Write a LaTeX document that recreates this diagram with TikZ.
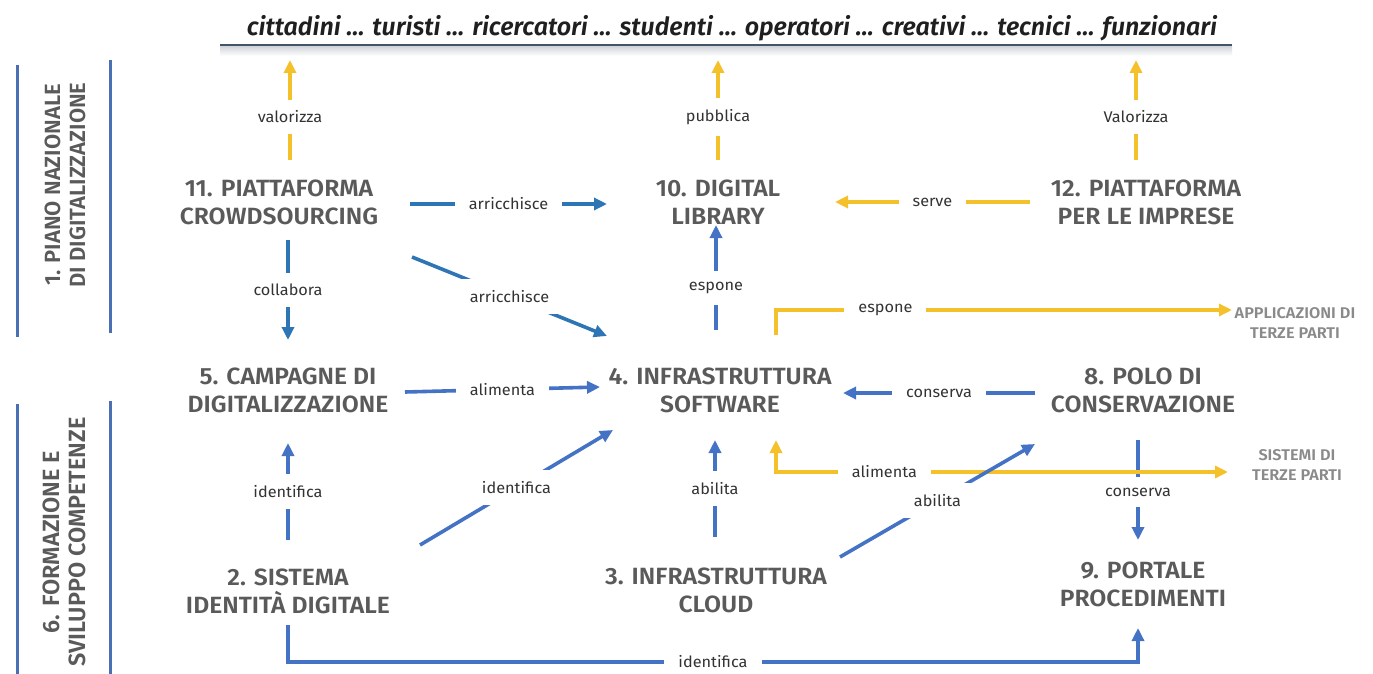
\documentclass[tikz,border=0pt]{standalone}
\usepackage{fontspec}
\setmainfont{Fira Sans}[FakeStretch=1.05]
\newfontfamily\nodefont{Fira Sans SemiBold}[FakeStretch=1.05]
\newfontfamily\sidefont{Fira Sans SemiBold}
\newfontfamily\titlefont{Fira Sans SemiBold Italic}
\usetikzlibrary{arrows.meta,calc}
\definecolor{txtgray}{HTML}{5A5A5A}
\definecolor{extgray}{HTML}{8A8A8A}
\definecolor{lblcol}{HTML}{333333}
\definecolor{cblue}{HTML}{4472C4}
\definecolor{dblue}{HTML}{2E75B6}
\definecolor{cyellow}{HTML}{F5C12A}
\definecolor{barblue}{HTML}{4A6FB5}
\definecolor{uline}{HTML}{44546A}
\begin{document}
\begin{tikzpicture}[x=1pt,y=-1pt,
  box/.style={align=center, font=\nodefont\fontsize{23.5}{28}\selectfont, text=txtgray, inner sep=0pt},
  side/.style={align=center, font=\sidefont\fontsize{22}{25}\selectfont, text=txtgray, inner sep=0pt, rotate=90},
  ext/.style={align=center, font=\nodefont\fontsize{15.5}{20}\selectfont, text=extgray, inner sep=0pt},
  lbl/.style={font=\fontsize{15.5}{17}\selectfont, text=lblcol, fill=white, inner xsep=14pt, inner ysep=11pt},
  con/.style={line width=3.6pt},
  blu/.style={con, draw=cblue},
  dblu/.style={con, draw=dblue},
  ylw/.style={con, draw=cyellow},
  tip/.style={-{Triangle[length=13pt,width=12pt]}},
  bar/.style={line width=3pt, draw=barblue}]
\useasboundingbox (0,0) rectangle (1373,674);

% title
\node[font=\titlefont\fontsize{25}{28}\selectfont, text=black!88, inner sep=0pt] (top) at (732,28)
  {cittadini ... turisti ... ricercatori ... studenti ... operatori ... creativi ... tecnici ... funzionari};
\shade[top color=uline!25, bottom color=white] (220,46) rectangle (1232,56);
\draw[line width=1.3pt, draw=uline] (220,45) -- (1232,45);

% side bars
\draw[bar] (17,65) -- (17,337);
\draw[bar] (110,60) -- (110,333);
\node[side] (s1) at (65,185) {1. PIANO NAZIONALE\\DI DIGITALIZZAZIONE};
\draw[bar] (17,404) -- (17,674);
\draw[bar] (110,401) -- (110,674);
\node[side, font=\sidefont\fontsize{23.5}{26}\selectfont] (s6) at (64,542) {6. FORMAZIONE E\\SVILUPPO COMPETENZE};

% nodes
\node[box] (n11) at (279,202) {11. PIATTAFORMA\\CROWDSOURCING};
\node[box] (n10) at (718,202) {10. DIGITAL\\LIBRARY};
\node[box] (n12) at (1146,202) {12. PIATTAFORMA\\PER LE IMPRESE};
\node[box] (n5) at (288,390) {5. CAMPAGNE DI\\DIGITALIZZAZIONE};
\node[box] (n4) at (720,390) {4. INFRASTRUTTURA\\SOFTWARE};
\node[box] (n8) at (1143,390) {8. POLO DI\\CONSERVAZIONE};
\node[box] (n2) at (288,591) {2. SISTEMA\\IDENTITÀ DIGITALE};
\node[box] (n3) at (716,590) {3. INFRASTRUTTURA\\CLOUD};
\node[box] (n9) at (1143,584) {9. PORTALE\\PROCEDIMENTI};
\node[ext] (app) at (1295,323) {APPLICAZIONI DI\\TERZE PARTI};
\node[ext] (sis) at (1297,465) {SISTEMI DI\\TERZE PARTI};

% top row to users
\draw[ylw,tip] ($(n11)+(11,-42)$) -- node[lbl,pos=0.43]{valorizza} ($(n11)+(11,-142)$);
\draw[ylw,tip] ($(n10)+(0,-42)$) -- node[lbl,pos=0.43]{pubblica} ($(n10)+(0,-142)$);
\draw[ylw,tip] ($(n12)+(-10,-42)$) -- node[lbl,pos=0.43]{Valorizza} ($(n12)+(-10,-142)$);

% horizontal top row
\draw[dblu,tip] ($(n11)+(131,2)$) -- node[lbl]{arricchisce} ($(n10)+(-111,2)$);
\draw[ylw,tip] ($(n12)+(-116,0)$) -- node[lbl]{serve} ($(n10)+(117,0)$);

% verticals / diagonals
\draw[dblu,tip] ($(n11)+(9,38)$) -- node[lbl]{collabora} ($(n5)+(0,-50)$);
\draw[dblu,tip] ($(n11)+(133,55)$) -- node[lbl]{arricchisce} ($(n4)+(-113,-54)$);
\draw[blu,tip] ($(n4)+(-4,-60)$) -- node[lbl,pos=0.4]{espone} ($(n10)+(-2,23)$);
\draw[ylw,tip] ($(n4)+(56,-55)$) |- node[lbl,pos=0.62]{espone} ($(app)+(-63,-13)$);

\draw[blu,tip] ($(n5)+(117,2)$) -- node[lbl]{alimenta} ($(n4)+(-120,-3)$);
\draw[blu,tip] ($(n8)+(-108,3)$) -- node[lbl]{conserva} ($(n4)+(123,3)$);

\draw[blu,tip] ($(n2)+(0,-51)$) -- node[lbl]{identifica} ($(n5)+(0,53)$);
\draw[blu,tip] ($(n2)+(132,-46)$) -- node[lbl]{identifica} ($(n4)+(-107,40)$);
\draw[blu,tip] ($(n3)+(-1,-53)$) -- node[lbl]{abilita} ($(n4)+(-5,50)$);

\draw[blu,tip] ($(n8)+(-5,50)$) -- node[lbl,pos=0.52]{conserva} ($(n9)+(-5,-44)$);
\draw[ylw,{Triangle[length=13pt,width=12pt]}-{Triangle[length=13pt,width=12pt]}]
  ($(n4)+(56,50)$) |- node[lbl,pos=0.62]{alimenta} ($(sis)+(-69,7)$);
\draw[blu,tip] ($(n3)+(124,-33)$) -- node[lbl]{abilita} ($(n8)+(-108,54)$);

\draw[blu,tip] ($(n2)+(0,34)$) -- ($(n2)+(0,71)$) -| node[lbl,pos=0.25,inner ysep=6pt]{identifica} ($(n9)+(-5,44)$);
\end{tikzpicture}
\end{document}
